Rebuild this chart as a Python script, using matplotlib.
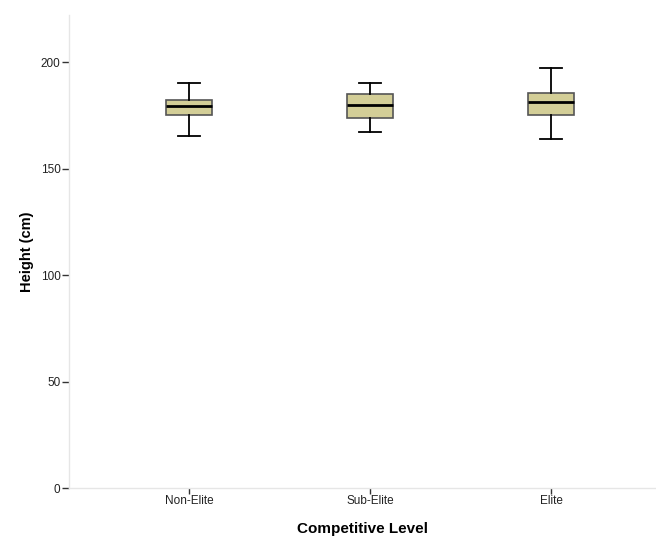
import matplotlib
matplotlib.use("Agg")
import matplotlib.pyplot as plt

plt.rcParams['font.family'] = ['Liberation Sans', 'DejaVu Sans']

levels = ['Non-Elite', 'Sub-Elite', 'Elite']
whisker_low = [165.3, 167.3, 164.0]
q1 = [175.1, 174.0, 175.1]
median = [179.3, 179.8, 181.2]
q3 = [182.2, 185.1, 185.3]
whisker_high = [190.1, 190.0, 197.3]

y_ticks = [0, 50, 100, 150, 200]

stats = []
for i, name in enumerate(levels):
    stats.append({
        'label': name,
        'whislo': whisker_low[i],
        'q1': q1[i],
        'med': median[i],
        'q3': q3[i],
        'whishi': whisker_high[i],
    })

fig = plt.figure(figsize=(6.56, 5.39), dpi=100)
ax = fig.add_axes([0.105, 0.0946, 0.895, 0.877])

ax.bxp(stats, positions=[1, 2, 3], widths=0.25, showfliers=False,
       patch_artist=True,
       boxprops=dict(facecolor='#d3ce97', edgecolor='#555555', linewidth=1.2),
       medianprops=dict(color='black', linewidth=2.0),
       whiskerprops=dict(color='black', linewidth=1.3),
       capprops=dict(color='black', linewidth=1.3),
       capwidths=0.12)

ax.set_xlim(0.337, 3.58)
ax.set_ylim(0, 222)
ax.set_yticks(y_ticks)
ax.set_xticks([1, 2, 3])
ax.set_xticklabels(levels)

for side in ['top', 'right']:
    ax.spines[side].set_visible(False)
for side in ['left', 'bottom']:
    ax.spines[side].set_color('#e6e6e6')
    ax.spines[side].set_linewidth(1.0)

ax.tick_params(axis='both', direction='out', length=5, width=1,
               color='#333333', labelsize=8.5, labelcolor='#222222')
ax.tick_params(axis='x', length=4, pad=1)
ax.tick_params(axis='y', pad=1)

ax.set_xlabel('Competitive Level', fontsize=11, fontweight='bold', labelpad=11)
ax.set_ylabel('Height (cm)', fontsize=10.5, fontweight='bold', labelpad=5)

fig.savefig('out.png', dpi=100, facecolor='white')
